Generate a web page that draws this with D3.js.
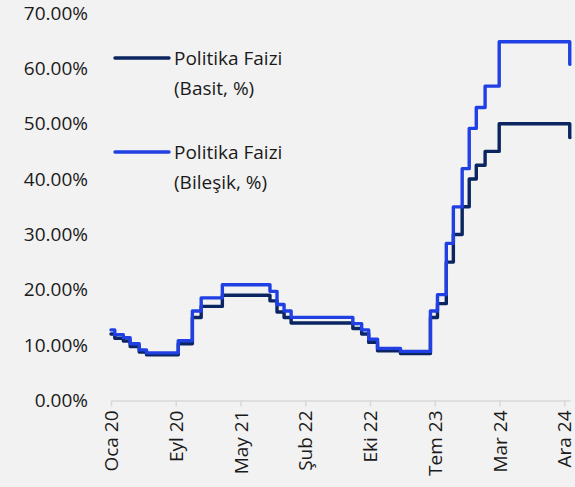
<!DOCTYPE html>
<html>
<head>
    <meta charset="utf-8">
    <title>Politika Faizi</title>
    <script src="https://cdn.jsdelivr.net/npm/d3@7"></script>
    <style>
        body { margin: 0; background: #f2f2f2; }
        svg { display: block; font-family: "Open Sans", "Noto Sans", sans-serif; }
    </style>
</head>
<body>
<svg></svg>
<script>
    // change dates of the policy rate (step series)
    var dates = ["2020-01-01", "2020-01-16", "2020-02-19", "2020-03-17", "2020-04-22", "2020-05-21",
        "2020-09-24", "2020-11-19", "2020-12-24", "2021-03-18", "2021-09-23", "2021-10-21",
        "2021-11-18", "2021-12-16", "2022-08-18", "2022-09-22", "2022-10-20", "2022-11-24",
        "2023-02-23", "2023-06-22", "2023-07-20", "2023-08-24", "2023-09-21", "2023-10-26",
        "2023-11-23", "2023-12-21", "2024-01-25", "2024-03-21", "2024-12-26", "2024-12-27"];

    // simple rate, %
    var basit = [12.00, 11.25, 10.75, 9.75, 8.75, 8.25,
        10.25, 15.00, 17.00, 19.00, 18.00, 16.00,
        15.00, 14.00, 13.00, 12.00, 10.50, 9.00,
        8.50, 15.00, 17.50, 25.00, 30.00, 35.00,
        40.00, 42.50, 45.00, 50.00, 47.50, 47.50];

    // compound rate, %
    var bilesik = [12.75, 11.90, 11.35, 10.24, 9.14, 8.60,
        10.79, 16.18, 18.53, 20.92, 19.72, 17.35,
        16.18, 15.02, 13.88, 12.75, 11.07, 9.42,
        8.87, 16.18, 19.12, 28.39, 34.97, 41.88,
        49.15, 52.92, 56.79, 64.82, 60.74, 60.74];

    var tickDates = ["2020-01-01", "2020-09-14", "2021-05-29", "2022-02-10",
        "2022-10-25", "2023-07-09", "2024-03-22", "2024-12-04"];
    var tickLabels = ["Oca 20", "Eyl 20", "May 21", "Şub 22", "Eki 22", "Tem 23", "Mar 24", "Ara 24"];

    var yTicks = [0, 10, 20, 30, 40, 50, 60, 70];

    var legendNames = [["Politika Faizi", "(Basit, %)"], ["Politika Faizi", "(Bileşik, %)"]];
    var colors = ["#0b2560", "#2140e4"];

    var w = 575, h = 487;
    var fs = 19;
    var parse = d3.timeParse("%Y-%m-%d");

    var svg = d3.select("svg").attr("width", w).attr("height", h);

    var x = d3.scaleTime()
        .domain([parse("2020-01-01"), parse("2024-12-27")])
        .range([111, 570]);

    var y = d3.scaleLinear().domain([0, 70]).range([400.5, 13]);

    // y labels (no axis line)
    svg.selectAll(".ylab")
        .data(yTicks)
        .enter()
        .append("text")
        .attr("class", "ylab")
        .attr("x", 88)
        .attr("y", function(d) { return y(d); })
        .attr("dy", "0.35em")
        .attr("text-anchor", "end")
        .attr("font-size", fs)
        .attr("fill", "#1a1a1a")
        .text(function(d) { return d.toFixed(2) + "%"; });

    // x axis
    var xAxis = d3.axisBottom(x)
        .tickValues(tickDates.map(parse))
        .tickSize(6)
        .tickSizeOuter(0)
        .tickFormat(function(d, i) { return tickLabels[i]; });

    var gx = svg.append("g")
        .attr("transform", "translate(0," + y(0) + ")")
        .call(xAxis);
    gx.select(".domain").attr("stroke", "#d9d9d9").attr("stroke-width", 1.5);
    gx.selectAll(".tick line").attr("stroke", "#d9d9d9").attr("stroke-width", 1.5);
    gx.selectAll(".tick text")
        .attr("font-size", fs)
        .attr("fill", "#1a1a1a")
        .attr("font-family", "'Open Sans', sans-serif")
        .attr("text-anchor", "end")
        .attr("transform", "rotate(-90)")
        .attr("x", -10)
        .attr("y", 0)
        .attr("dy", "0.35em");

    // lines
    var series = [basit, bilesik];
    var line = d3.line()
        .x(function(d, i) { return x(parse(dates[i])); })
        .y(function(d) { return y(d); })
        .curve(d3.curveStepAfter);

    svg.selectAll(".series")
        .data(series)
        .enter()
        .append("path")
        .attr("class", "series")
        .attr("d", line)
        .attr("fill", "none")
        .attr("stroke", function(d, i) { return colors[i]; })
        .attr("stroke-width", 3.4)
        .attr("stroke-linejoin", "round")
        .attr("stroke-linecap", "round");

    // legend
    var legendY = [58, 152];
    var leg = svg.selectAll(".legend")
        .data(legendNames)
        .enter()
        .append("g")
        .attr("class", "legend")
        .attr("transform", function(d, i) { return "translate(115," + legendY[i] + ")"; });

    leg.append("line")
        .attr("x1", 0).attr("x2", 54)
        .attr("y1", 0).attr("y2", 0)
        .attr("stroke", function(d, i) { return colors[i]; })
        .attr("stroke-width", 3.4)
        .attr("stroke-linecap", "round");

    leg.append("text")
        .attr("x", 59)
        .attr("y", 0)
        .attr("dy", "0.35em")
        .attr("font-size", fs)
        .attr("fill", "#1a1a1a")
        .text(function(d) { return d[0]; });

    leg.append("text")
        .attr("x", 59)
        .attr("y", 30)
        .attr("dy", "0.35em")
        .attr("font-size", fs)
        .attr("fill", "#1a1a1a")
        .text(function(d) { return d[1]; });
</script>
</body>
</html>
